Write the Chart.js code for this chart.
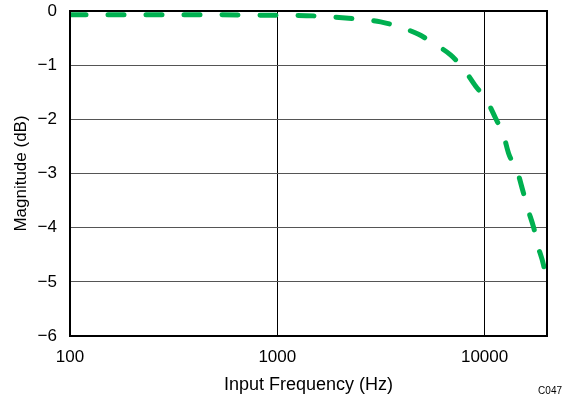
<!DOCTYPE html>
<html>
<head>
<meta charset="utf-8">
<script src="https://cdn.jsdelivr.net/npm/chart.js@4/dist/chart.umd.min.js"></script>
<style>
  html, body { margin: 0; padding: 0; background: #fff; }
  #wrap { position: relative; width: 562px; height: 396px; }
  #code { position: absolute; right: 0px; top: 385px; font: 10px "Liberation Sans", Arial, sans-serif; color: #000; }
</style>
</head>
<body>
<div id="wrap">
  <canvas id="c" width="562" height="396"></canvas>
  <div id="code">C047</div>
</div>
<script>
const frequencies = [100, 200, 500, 1000, 1500, 2300, 3150, 3850, 4800, 5680, 6850, 7930, 9060, 10240, 11300, 12360, 13060, 14430, 15270, 16150, 17250, 18050, 19270, 20000];
const magnitudes  = [-0.07, -0.07, -0.07, -0.08, -0.09, -0.14, -0.2, -0.29, -0.43, -0.6, -0.81, -1.07, -1.39, -1.65, -1.98, -2.3, -2.63, -2.98, -3.31, -3.65, -4.0, -4.33, -4.7, -5.08];
const xTickValues = [100, 1000, 10000];
const yTickValues = [0, -1, -2, -3, -4, -5, -6];
const xTitle = 'Input Frequency (Hz)';
const yTitle = 'Magnitude (dB)';

const FONT = '"Liberation Sans", Arial, sans-serif';

const framePlugin = {
  id: 'frame',
  afterDraw(chart) {
    const a = chart.chartArea, ctx = chart.ctx;
    ctx.save();
    ctx.strokeStyle = '#000';
    ctx.lineWidth = 2;
    ctx.strokeRect(a.left, a.top, a.right - a.left, a.bottom - a.top);
    ctx.restore();
  }
};

function noPad(s) { s.paddingTop = 0; s.paddingBottom = 0; s.paddingLeft = 0; s.paddingRight = 0; }

new Chart(document.getElementById('c'), {
  type: 'line',
  data: {
    datasets: [{
      data: frequencies.map((f, i) => ({ x: f, y: magnitudes[i] })),
      borderColor: '#00b050',
      borderWidth: 5,
      borderDash: [16, 22],
      borderCapStyle: 'round',
      pointRadius: 0,
      fill: false,
      cubicInterpolationMode: 'monotone'
    }]
  },
  options: {
    responsive: false,
    animation: false,
    layout: { padding: { top: 11, right: 15, left: 0, bottom: 0 } },
    plugins: { legend: { display: false }, tooltip: { enabled: false } },
    scales: {
      x: {
        type: 'logarithmic',
        min: 100,
        max: 20000,
        afterBuildTicks: s => { s.ticks = xTickValues.map(v => ({ value: v })); },
        afterFit: s => { s.height = 60; noPad(s); },
        ticks: {
          autoSkip: false,
          maxRotation: 0,
          padding: 11,
          color: '#000',
          font: { family: FONT, size: 17 },
          callback: v => String(v)
        },
        grid: { color: '#000', lineWidth: 1, drawTicks: false },
        border: { display: false },
        title: {
          display: true, text: xTitle, color: '#000',
          font: { family: FONT, size: 18 },
          padding: { top: 0, bottom: 0 }
        }
      },
      y: {
        type: 'linear',
        min: -6,
        max: 0,
        afterBuildTicks: s => { s.ticks = yTickValues.map(v => ({ value: v })); },
        afterFit: s => { s.width = 70; noPad(s); },
        ticks: {
          padding: 13,
          color: '#000',
          font: { family: FONT, size: 17 },
          callback: v => (v < 0 ? '\u2212' + Math.abs(v) : String(v))
        },
        grid: { color: '#555', lineWidth: 1, drawTicks: false },
        border: { display: false },
        title: {
          display: true, text: yTitle, color: '#000',
          font: { family: FONT, size: 17 },
          padding: { top: 11, bottom: 0 }
        }
      }
    }
  },
  plugins: [framePlugin]
});
</script>
</body>
</html>
